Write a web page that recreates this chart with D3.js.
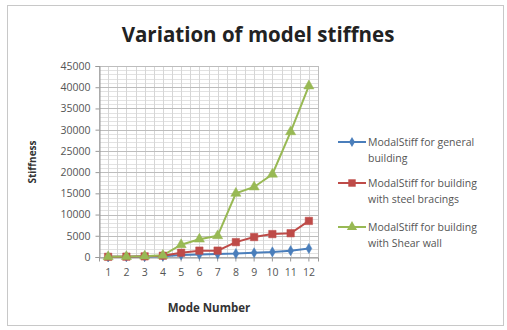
<!DOCTYPE html>
<html>
<head>
<meta charset="utf-8">
<script src="https://cdn.jsdelivr.net/npm/d3@7"></script>
<style>
  html, body { margin: 0; padding: 0; background: #fff; }
  svg { display: block; }
</style>
</head>
<body>
<svg id="chart" width="507" height="330"></svg>
<script>
// Mode numbers on the x axis
const modes = ["1", "2", "3", "4", "5", "6", "7", "8", "9", "10", "11", "12"];

// Modal stiffness per mode for each building type
const generalBuilding = [30, 60, 100, 200, 500, 600, 700, 800, 1000, 1200, 1500, 2000];
const steelBracings   = [40, 80, 150, 300, 1000, 1500, 1500, 3500, 4700, 5400, 5600, 8500];
const shearWall       = [50, 100, 200, 400, 2900, 4200, 5000, 15000, 16500, 19500, 29500, 40300];

const seriesNames = [
  ["ModalStiff for general", "building"],
  ["ModalStiff for building", "with steel bracings"],
  ["ModalStiff for building", "with Shear wall"]
];
const yTicks = [0, 5000, 10000, 15000, 20000, 25000, 30000, 35000, 40000, 45000];

const series = [
  { values: generalBuilding, color: "#4a7ebb", marker: "diamond", name: seriesNames[0] },
  { values: steelBracings,   color: "#be4b48", marker: "square",  name: seriesNames[1] },
  { values: shearWall,       color: "#98b954", marker: "triangle",name: seriesNames[2] }
];

const svg = d3.select("#chart");
const font = "'Open Sans', 'Liberation Sans', sans-serif";

// Outer chart frame
svg.append("rect")
  .attr("x", 7.5).attr("y", 5.5).attr("width", 496).attr("height", 320)
  .attr("fill", "#fff").attr("stroke", "#c8c8c8").attr("stroke-width", 1);

const plot = { left: 99, right: 318, top: 66, bottom: 257 };

const x = d3.scaleBand().domain(modes).range([plot.left, plot.right]);
const y = d3.scaleLinear().domain([0, 45000]).range([plot.bottom, plot.top]);

const g = svg.append("g");

// Minor horizontal gridlines every 1000
const minorY = d3.range(0, 45001, 1000).filter(v => v % 5000 !== 0);
g.selectAll(".minor-h").data(minorY).join("line")
  .attr("x1", plot.left).attr("x2", plot.right)
  .attr("y1", d => Math.round(y(d)) + 0.5).attr("y2", d => Math.round(y(d)) + 0.5)
  .attr("stroke", "#e2e2e2").attr("stroke-width", 1);

// Vertical gridlines at category centres and boundaries
const vLines = [];
modes.forEach(m => {
  vLines.push(x(m));
  vLines.push(x(m) + x.bandwidth() / 2);
});
vLines.push(plot.right);
g.selectAll(".grid-v").data(vLines).join("line")
  .attr("x1", d => Math.round(d) + 0.5).attr("x2", d => Math.round(d) + 0.5)
  .attr("y1", plot.top).attr("y2", plot.bottom)
  .attr("stroke", "#d6d6d6").attr("stroke-width", 1);

// Major horizontal gridlines
g.selectAll(".major-h").data(yTicks).join("line")
  .attr("x1", plot.left).attr("x2", plot.right)
  .attr("y1", d => Math.round(y(d)) + 0.5).attr("y2", d => Math.round(y(d)) + 0.5)
  .attr("stroke", "#bdbdbd").attr("stroke-width", 1);

// Plot area border
g.append("rect")
  .attr("x", plot.left + 0.5).attr("y", plot.top + 0.5)
  .attr("width", plot.right - plot.left).attr("height", plot.bottom - plot.top)
  .attr("fill", "none").attr("stroke", "#bdbdbd");

// Y axis
const yAxis = d3.axisLeft(y).tickValues(yTicks).tickFormat(d3.format("d")).tickSize(4).tickPadding(5);
const yg = svg.append("g").attr("transform", `translate(${plot.left + 0.5},0)`).call(yAxis);
yg.select(".domain").attr("stroke", "#999");
yg.selectAll(".tick line").attr("stroke", "#999");
yg.selectAll("text").attr("font-family", font).attr("font-size", 10.5).attr("fill", "#555");

// X axis
const xAxis = d3.axisBottom(x).tickSize(4).tickPadding(7);
const xg = svg.append("g").attr("transform", `translate(0,${plot.bottom + 0.5})`).call(xAxis);
xg.select(".domain").attr("stroke", "#999");
xg.selectAll(".tick line").attr("stroke", "#999");
xg.selectAll("text").attr("font-family", font).attr("font-size", 10.5).attr("fill", "#555");

// Marker shapes
const symbolFor = {
  diamond: d3.symbol().type(d3.symbolDiamond).size(30),
  square: d3.symbol().type(d3.symbolSquare).size(55),
  triangle: d3.symbol().type(d3.symbolTriangle).size(45)
};

const cx = m => x(m) + x.bandwidth() / 2;
const line = d3.line().x((d, i) => cx(modes[i])).y(d => y(d));

series.forEach(s => {
  svg.append("path").datum(s.values)
    .attr("d", line).attr("fill", "none")
    .attr("stroke", s.color).attr("stroke-width", 2);
});
series.forEach(s => {
  svg.append("g").selectAll("path").data(s.values).join("path")
    .attr("transform", (d, i) => `translate(${cx(modes[i])},${y(d)})`)
    .attr("d", symbolFor[s.marker]())
    .attr("fill", s.color).attr("stroke", s.color).attr("stroke-width", 0.5);
});

// Title
svg.append("text")
  .attr("x", 258).attr("y", 42).attr("text-anchor", "middle")
  .attr("font-family", font).attr("font-weight", "bold").attr("font-size", 20.5)
  .attr("fill", "#222").text("Variation of model stiffnes");

// Axis titles
svg.append("text")
  .attr("transform", "translate(36,162) rotate(-90)").attr("text-anchor", "middle")
  .attr("font-family", font).attr("font-weight", "bold").attr("font-size", 10)
  .attr("fill", "#333").text("Stiffness");
svg.append("text")
  .attr("x", 209).attr("y", 312).attr("text-anchor", "middle")
  .attr("font-family", font).attr("font-weight", "bold").attr("font-size", 11.5)
  .attr("fill", "#333").text("Mode Number");

// Legend
const legendTop = [142, 183, 227];
series.forEach((s, i) => {
  const ly = legendTop[i];
  const lg = svg.append("g");
  lg.append("line").attr("x1", 338).attr("x2", 366).attr("y1", ly).attr("y2", ly)
    .attr("stroke", s.color).attr("stroke-width", 2);
  lg.append("path").attr("transform", `translate(352,${ly})`)
    .attr("d", symbolFor[s.marker]()).attr("fill", s.color);
  s.name.forEach((t, j) => {
    lg.append("text").attr("x", 368).attr("y", ly + 4 + j * 16)
      .attr("font-family", font).attr("font-size", 10.5).attr("fill", "#555").text(t);
  });
});
</script>
</body>
</html>
